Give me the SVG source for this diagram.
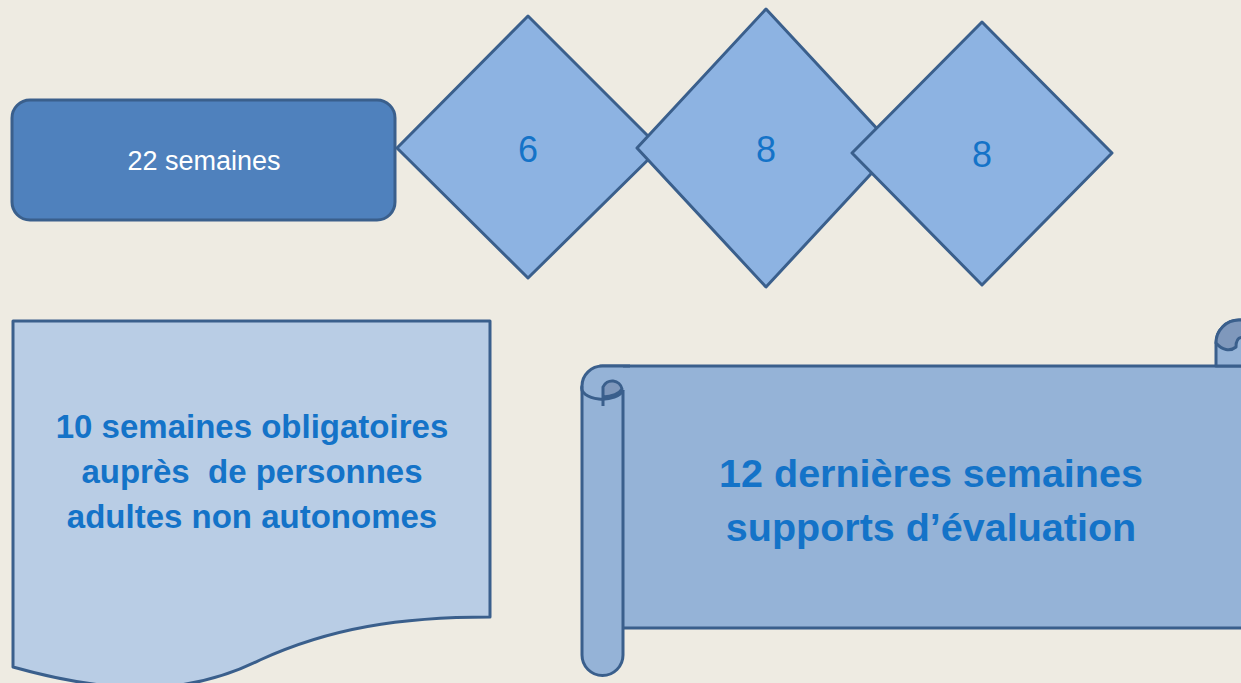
<svg xmlns="http://www.w3.org/2000/svg" width="1241" height="683" viewBox="0 0 1241 683">
<style>
.shp{stroke:#3a5f8c;stroke-width:3;stroke-linejoin:round}
.dia{fill:#8db3e2}
.lbl{font-family:"Liberation Sans",Arial,sans-serif;text-anchor:middle;fill:#1473c8}
.big{font-weight:bold}
</style>
<rect width="1241" height="683" fill="#eeebe2"/>
<g id="connectors"></g>
<g id="node-22">
<rect class="shp" x="12" y="100" width="383" height="120" rx="18" fill="#4f81bd"/>
<text class="lbl" x="204" y="170" font-size="27" style="fill:#ffffff">22 semaines</text>
</g>
<g id="node-6">
<polygon class="shp dia" points="397,148 528,16 660,148 528,278"/>
<text class="lbl" x="528" y="162" font-size="36">6</text>
</g>
<g id="node-8a">
<polygon class="shp dia" points="637,148 766,9 895,148 766,287"/>
<text class="lbl" x="766" y="162" font-size="36">8</text>
</g>
<g id="node-8b">
<polygon class="shp dia" points="852,153 982,22 1112,153 982,285"/>
<text class="lbl" x="982" y="167" font-size="36">8</text>
</g>
<g id="node-doc">
<path class="shp" fill="#b9cde5" d="M13,321 L490,321 L490,617 C400,617 330,628 260,660 C200,690 130,700 13,667 Z"/>
<text class="lbl big" font-size="33" xml:space="preserve" style="white-space:pre"><tspan x="252" y="438">10 semaines obligatoires</tspan><tspan x="252" y="483">auprès  de personnes</tspan><tspan x="252" y="528">adultes non autonomes</tspan></text>
</g>
<g id="node-scroll">
<rect class="shp" x="600" y="366" width="660" height="262" fill="#95b3d7"/>
<path class="shp" fill="#95b3d7" d="M1216,366 L1216,343 A23,23 0 0 1 1262,343 L1262,366 Z"/>
<path class="shp" fill="#7f98bc" d="M1216,343 A23,23 0 0 1 1262,343 L1250,343 C1245,335 1236,335 1236,347 C1230,352 1222,350 1216,343 Z"/>
<path fill="#95b3d7" d="M582,386 A20.5,20 0 0 1 602.5,366 L623,366 L623,655 A20.5,20.5 0 0 1 582,655 Z"/>
<path class="shp" fill="none" d="M623,390 L623,655 A20.5,20.5 0 0 1 582,655 L582,386 A20.5,20 0 0 1 602.5,366 L630,366"/>
<path class="shp" fill="none" d="M582,386 A20.5,11 0 0 0 623,390"/>
<path class="shp" fill="#7f98bc" d="M603,406 L603,387 A10,10 0 0 1 622,389 A20.5,11 0 0 1 603,397"/>
<text class="lbl big" font-size="39.5"><tspan x="931" y="487">12 dernières semaines</tspan><tspan x="931" y="541">supports d’évaluation</tspan></text>
</g>
</svg>
